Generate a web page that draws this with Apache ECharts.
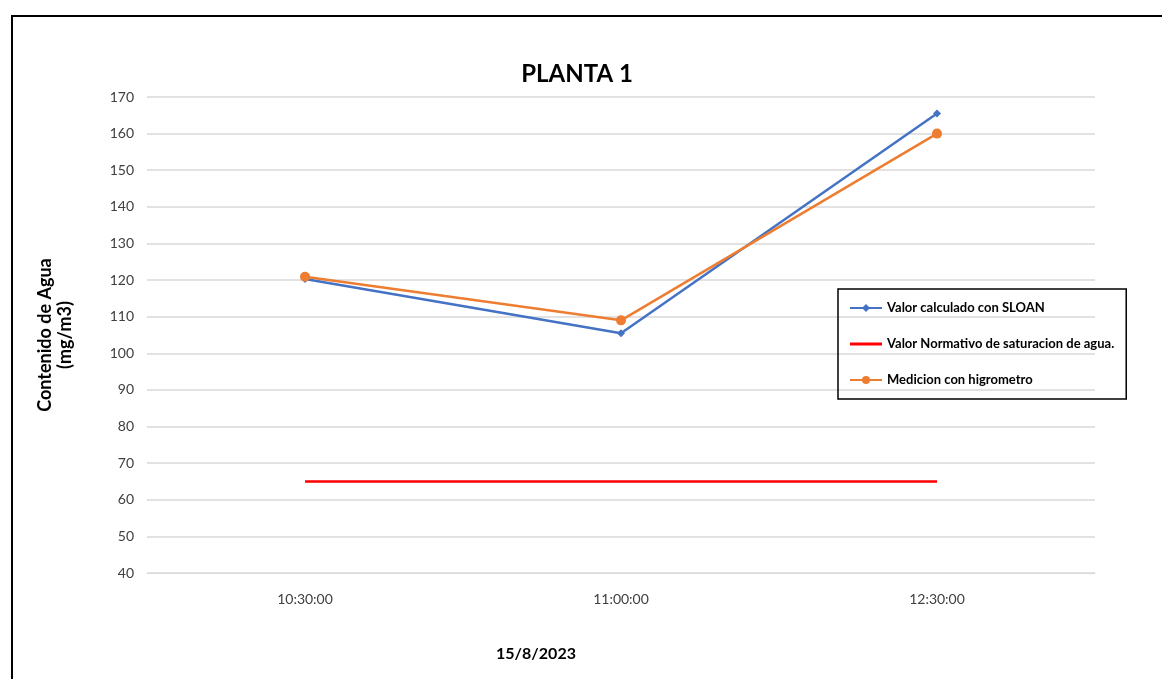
<!DOCTYPE html>
<html>
<head>
<meta charset="utf-8">
<script src="https://cdn.jsdelivr.net/npm/echarts@6/dist/echarts.min.js"></script>
<style>
  html, body { margin: 0; padding: 0; background: #fff; }
  #frame { position: absolute; left: 11px; top: 15px; width: 1200px; height: 700px; border-left: 2px solid #000; border-top: 2px solid #000; box-sizing: border-box; }
  #chart { position: absolute; left: 0; top: 0; width: 1162px; height: 679px; }
</style>
</head>
<body>
<div id="frame"></div>
<div id="chart"></div>
<script>
// Sampling times on 15/8/2023
const categories = ['10:30:00', '11:00:00', '12:30:00'];
// Water content, mg/m3
const sloanValues = [120.3, 105.5, 165.5];
const normativeValues = [65, 65, 65];
const hygrometerValues = [120.9, 109, 160];

const seriesNames = [
  'Valor calculado con SLOAN',
  'Valor Normativo de saturacion de agua.',
  'Medicion con higrometro'
];

const FONT = 'Lato, "Open Sans", sans-serif';

const chart = echarts.init(document.getElementById('chart'), null, { renderer: 'canvas' });

chart.setOption({
  backgroundColor: 'transparent',
  animation: false,
  title: {
    text: 'PLANTA 1',
    left: 572,
    top: 57,
    textAlign: 'center',
    textStyle: { fontFamily: FONT, fontSize: 24, fontWeight: 'bold', color: '#000' }
  },
  legend: {
    orient: 'vertical',
    left: 838,
    top: 289,
    padding: [11, 12, 11, 11],
    itemGap: 20,
    itemWidth: 32,
    itemHeight: 10,
    borderColor: '#000',
    borderWidth: 1.5,
    textStyle: { fontFamily: FONT, fontSize: 13, fontWeight: 'bold', color: '#000', lineHeight: 16 },
    data: [
      { name: seriesNames[0] },
      // plain line swatch for the reference level
      { name: seriesNames[1], icon: 'path://M0,0 L32,0 L32,3 L0,3 Z' },
      { name: seriesNames[2] }
    ]
  },
  grid: { left: 147, right: 67, top: 97, bottom: 106, containLabel: false },
  xAxis: {
    type: 'category',
    data: categories,
    boundaryGap: true,
    name: '15/8/2023',
    nameLocation: 'middle',
    nameGap: 73,
    nameTextStyle: { fontFamily: FONT, fontSize: 16, fontWeight: 'bold', color: '#000', padding: [0, 170, 0, 0] },
    axisLine: { show: true, lineStyle: { color: '#d9d9d9', width: 1 } },
    axisTick: { show: false },
    axisLabel: { fontFamily: FONT, fontSize: 14, color: '#404040', margin: 19 }
  },
  yAxis: {
    type: 'value',
    min: 40,
    max: 170,
    interval: 10,
    name: 'Contenido de Agua\n(mg/m3)',
    nameLocation: 'middle',
    nameGap: 72,
    nameRotate: 90,
    nameTextStyle: { fontFamily: FONT, fontSize: 18, fontWeight: 'bold', color: '#000', lineHeight: 20 },
    axisLine: { show: false },
    axisTick: { show: false },
    axisLabel: { fontFamily: FONT, fontSize: 14, color: '#404040', margin: 13 },
    splitLine: { lineStyle: { color: '#d9d9d9', width: 1.5 } }
  },
  series: [
    {
      name: seriesNames[0],
      type: 'line',
      data: sloanValues,
      symbol: 'diamond',
      symbolSize: 8,
      lineStyle: { color: '#4472c4', width: 2.5 },
      itemStyle: { color: '#4472c4' },
      z: 3
    },
    {
      name: seriesNames[1],
      type: 'line',
      data: normativeValues,
      symbol: 'none',
      lineStyle: { color: '#ff0000', width: 2.5 },
      itemStyle: { color: '#ff0000' },
      z: 2
    },
    {
      name: seriesNames[2],
      type: 'line',
      data: hygrometerValues,
      symbol: 'circle',
      symbolSize: 10,
      lineStyle: { color: '#ed7d31', width: 2.5 },
      itemStyle: { color: '#ed7d31' },
      z: 4
    }
  ]
});
</script>
</body>
</html>
